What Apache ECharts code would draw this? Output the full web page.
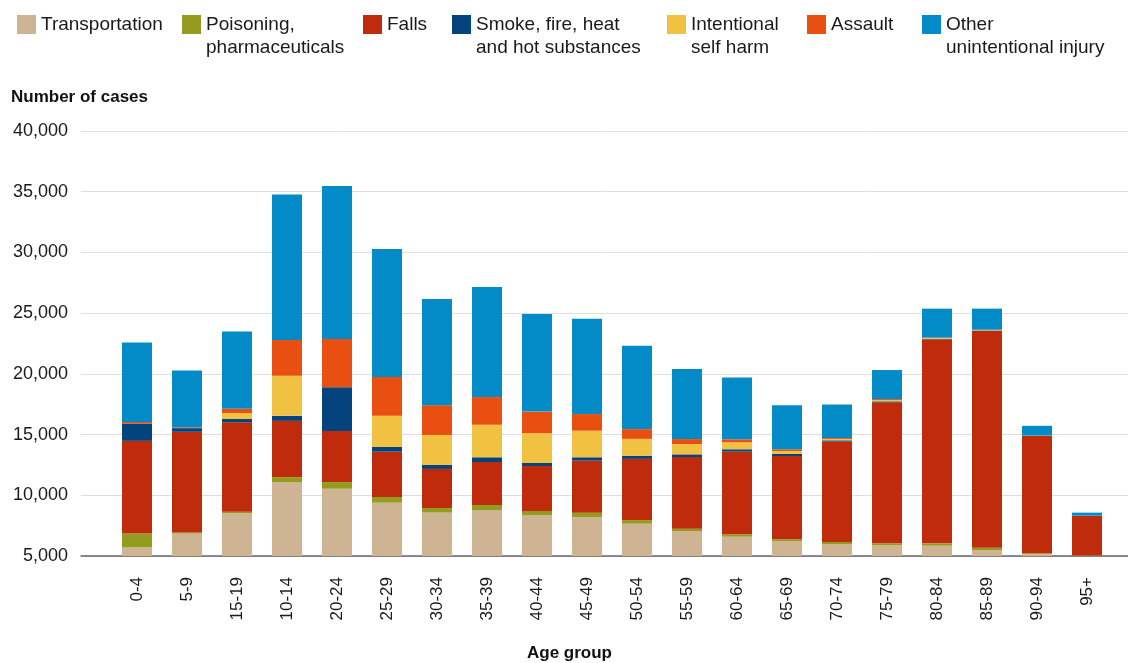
<!DOCTYPE html>
<html>
<head>
<meta charset="utf-8">
<title>Injury cases by age group</title>
<script src="https://cdn.jsdelivr.net/npm/echarts@6/dist/echarts.min.js"></script>
<style>
    html, body { margin: 0; padding: 0; background: #fff; }
    #chart { width: 1128px; height: 663px; }
</style>
</head>
<body>
<div id="chart"></div>
<script>
'use strict';

// age groups, in the order the source chart shows them
var categories = ['0-4', '5-9', '15-19', '10-14', '20-24', '25-29', '30-34', '35-39', '40-44', '45-49',
    '50-54', '55-59', '60-64', '65-69', '70-74', '75-79', '80-84', '85-89', '90-94', '95+'];

var transport = [5700, 6840, 8540, 11090, 10540, 9390, 8570, 8790, 8350, 8190, 7660, 7060, 6590, 6210, 5990, 5880, 5850, 5490, 5150, 5030];
var poisoning = [1150, 100, 110, 410, 550, 470, 380, 410, 360, 380, 300, 190, 200, 165, 165, 165, 190, 190, 70, 20];
var falls = [7630, 8290, 7360, 4630, 4200, 3730, 3220, 3540, 3700, 4280, 5040, 5900, 6800, 6860, 8260, 11610, 16790, 17840, 9660, 3270];
var smoke = [1430, 300, 270, 410, 3600, 390, 330, 390, 250, 280, 250, 220, 200, 165, 110, 80, 60, 40, 20, 0];
var selfHarm = [0, 0, 490, 3300, 0, 2580, 2470, 2680, 2450, 2190, 1400, 850, 570, 250, 115, 110, 60, 40, 10, 0];
var assault = [130, 70, 350, 2940, 3980, 3190, 2450, 2280, 1780, 1370, 800, 410, 250, 140, 75, 80, 50, 40, 10, 0];
var other = [6540, 4670, 6370, 12000, 12600, 10540, 8750, 9060, 8040, 7850, 6860, 5760, 5100, 3620, 2770, 2390, 2370, 1730, 800, 250];

var seriesNames = ['Transportation', 'Poisoning,\npharmaceuticals', 'Falls', 'Smoke, fire, heat\nand hot substances',
    'Intentional\nself harm', 'Assault', 'Other\nunintentional injury'];
var seriesData = [transport, poisoning, falls, smoke, selfHarm, assault, other];
var colors = ['#cfb494', '#949c1f', '#c02b0c', '#03447f', '#f1c141', '#e84f10', '#038bc8'];
var legendLeft = [17, 182, 363, 452, 667, 807, 922];

var myChart = echarts.init(document.getElementById('chart'));

var legends = [];
var series = [];
for (var i = 0; i < seriesNames.length; i++) {
    var twoLines = seriesNames[i].indexOf('\n') >= 0;
    legends.push({
        left: legendLeft[i],
        top: twoLines ? -10 : 13,
        padding: 0,
        itemWidth: 19,
        itemHeight: 19,
        icon: 'rect',
        selectedMode: false,
        data: [seriesNames[i]],
        // an empty first line keeps the icon next to the first text line
        formatter: twoLines ? function (name) { return '\n' + name; } : null,
        textStyle: {
            fontFamily: 'Liberation Sans, Arial, sans-serif',
            fontSize: 19,
            color: '#1a1a1a',
            lineHeight: 23
        }
    });
    series.push({
        name: seriesNames[i],
        type: 'bar',
        stack: 'total',
        xAxisIndex: 0,
        yAxisIndex: 0,
        barWidth: 30,
        data: seriesData[i],
        itemStyle: {color: colors[i]},
        emphasis: {disabled: true}
    });
}

var option = {
    animation: false,
    color: colors,
    textStyle: {fontFamily: 'Liberation Sans, Arial, sans-serif'},
    title: [
        {
            text: 'Number of cases',
            left: 11,
            top: 89,
            padding: 0,
            textStyle: {fontSize: 17, fontWeight: 'bold', color: '#111'}
        },
        {
            text: 'Age group',
            left: 527,
            top: 645,
            padding: 0,
            textStyle: {fontSize: 17, fontWeight: 'bold', color: '#111'}
        }
    ],
    legend: legends,
    grid: [
        // bars
        {left: 112, right: 16, top: 131, height: 425},
        // gridlines, y labels and baseline
        {left: 81, right: 0, top: 131, height: 425}
    ],
    xAxis: [
        {
            type: 'category',
            gridIndex: 0,
            data: categories,
            axisLine: {show: false},
            axisTick: {show: false},
            axisLabel: {
                rotate: 90,
                margin: 21,
                fontSize: 17,
                color: '#1a1a1a'
            }
        },
        {
            type: 'value',
            gridIndex: 1,
            min: 0,
            max: 1,
            axisLine: {show: true, lineStyle: {color: '#666', width: 1.5}},
            axisTick: {show: false},
            axisLabel: {show: false},
            splitLine: {show: false}
        }
    ],
    yAxis: [
        {
            type: 'value',
            gridIndex: 0,
            min: 5000,
            max: 40000,
            interval: 5000,
            axisLine: {show: false},
            axisTick: {show: false},
            axisLabel: {show: false},
            splitLine: {show: false}
        },
        {
            type: 'value',
            gridIndex: 1,
            min: 5000,
            max: 40000,
            interval: 5000,
            axisLine: {show: false},
            axisTick: {show: false},
            axisLabel: {
                margin: 13,
                fontSize: 18,
                color: '#1a1a1a',
                formatter: function (v) {
                    return v.toLocaleString('en-US');
                }
            },
            splitLine: {lineStyle: {color: '#dedede', width: 1}}
        }
    ],
    series: series
};

myChart.setOption(option);
</script>
</body>
</html>
